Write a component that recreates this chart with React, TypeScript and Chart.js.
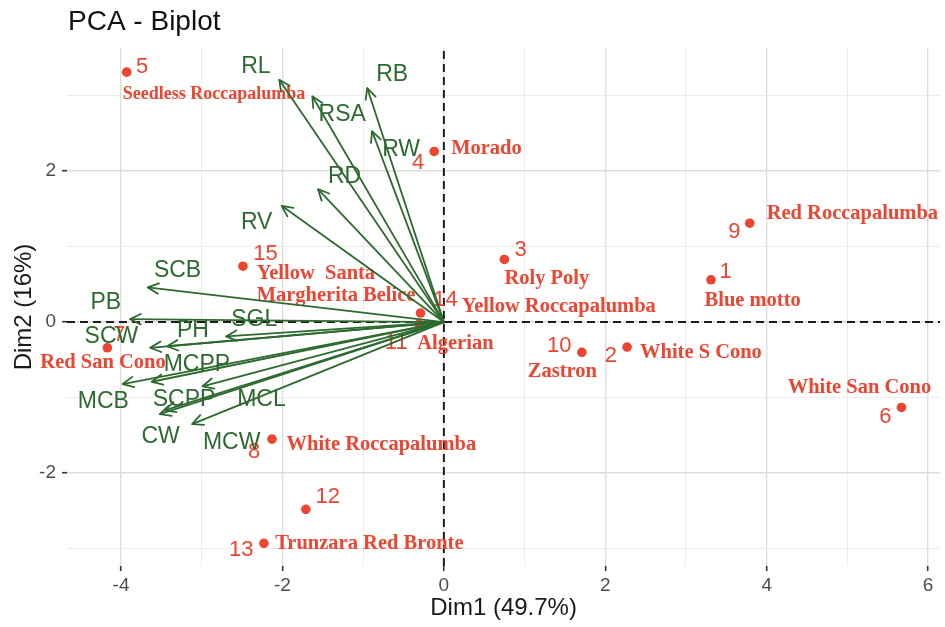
import React, { useEffect, useRef } from 'react';
import { Chart, registerables } from 'chart.js';

Chart.register(...registerables);

// ---------- Axis ranges & labels ----------
const X_MIN = -4.67;
const X_MAX = 6.15;
const Y_MIN = -3.23;
const Y_MAX = 3.63;
const chartTitle = 'PCA - Biplot';
const xTitle = 'Dim1 (49.7%)';
const yTitle = 'Dim2 (16%)';

// ---------- Individuals ----------
const indIds = ['1', '2', '3', '4', '5', '6', '7', '8', '9', '10', '11', '12', '13', '14', '15'];
const indNames = [
  'Blue motto',
  'White S Cono',
  'Roly Poly',
  'Morado',
  'Seedless Roccapalumba',
  'White San Cono',
  'Red San Cono',
  'White Roccapalumba',
  'Red Roccapalumba',
  'Zastron',
  'Algerian',
  '',
  'Trunzara Red Bronte',
  'Yellow Roccapalumba',
  'Yellow  Santa\nMargherita Belice',
];
const indX = [3.31, 2.27, 0.75, -0.12, -3.93, 5.67, -4.17, -2.13, 3.79, 1.71, -0.31, -1.71, -2.23, -0.29, -2.49];
const indY = [0.56, -0.33, 0.83, 2.26, 3.31, -1.13, -0.34, -1.55, 1.31, -0.4, -0.03, -2.48, -2.93, 0.12, 0.74];
// label anchors (data units)
const numLabelX = [3.49, 2.07, 0.95, -0.32, -3.74, 5.47, -4.02, -2.35, 3.6, 1.43, -0.59, -1.44, -2.51, 0.02, -2.21];
const numLabelY = [0.66, -0.45, 0.95, 2.11, 3.38, -1.26, -0.17, -1.72, 1.19, -0.32, -0.28, -2.32, -3.02, 0.29, 0.9];
const nameLabelX = [3.23, 2.43, 0.75, 0.09, -3.98, 4.26, -5.0, -1.95, 4.0, 1.04, -0.33, 0, -2.09, 0.22, -2.32];
const nameLabelY = [0.29, -0.4, 0.57, 2.29, 3.02, -0.87, -0.54, -1.62, 1.43, -0.66, -0.28, 0, -2.94, 0.2, 0.64];

// ---------- Variables ----------
const varNames = ['RL', 'RSA', 'RB', 'RW', 'RD', 'RV', 'SCB', 'PB', 'SGL', 'PH', 'SCW', 'MCPP', 'MCB', 'MCL', 'SCPP', 'CW', 'MCW'];
const varX = [-2.04, -1.63, -0.95, -0.89, -1.56, -2.01, -3.67, -3.89, -2.7, -3.43, -3.64, -3.62, -3.98, -2.99, -3.46, -3.52, -3.12];
const varY = [3.21, 2.99, 3.1, 2.53, 1.76, 1.54, 0.46, 0.04, -0.19, -0.32, -0.34, -0.79, -0.82, -0.85, -1.17, -1.22, -1.35];
const varLabelX = [-2.33, -1.26, -0.64, -0.53, -1.23, -2.32, -3.3, -4.19, -2.35, -3.11, -4.12, -3.06, -4.22, -2.26, -3.22, -3.51, -2.63];
const varLabelY = [3.38, 2.75, 3.28, 2.29, 1.93, 1.32, 0.68, 0.26, 0.03, -0.11, -0.19, -0.56, -1.06, -1.03, -1.03, -1.52, -1.6];

const RED = '#EE4430';
const GREEN = '#2D6A2F';
const SANS = '"Liberation Sans", Arial, Helvetica, sans-serif';
const SERIF = '"Liberation Serif", "Times New Roman", serif';
const NAME_FONT_PX = 20.5;
const NAME_FONT_PX_SMALL = 18; // the "Seedless Roccapalumba" caption is set smaller
const SMALL_NAME_IDS = ['5'];

const isEven = (v: number) => Math.round(v) % 2 === 0;

const biplotPlugin = {
  id: 'biplotDecor',
  afterDatasetDraw(chart: any, args: any) {
    if (args.index !== 0) return; // after individual points: draw their labels
    const { ctx } = chart;
    const xs = chart.scales.x;
    const ys = chart.scales.y;
    ctx.save();
    ctx.fillStyle = RED;
    ctx.textBaseline = 'middle';
    // numbers
    ctx.font = `22px ${SANS}`;
    ctx.textAlign = 'center';
    indIds.forEach((id, i) => {
      ctx.fillText(id, xs.getPixelForValue(numLabelX[i]), ys.getPixelForValue(numLabelY[i]));
    });
    // names
    ctx.textAlign = 'left';
    indNames.forEach((nm, i) => {
      if (!nm) return;
      const size = SMALL_NAME_IDS.includes(indIds[i]) ? NAME_FONT_PX_SMALL : NAME_FONT_PX;
      ctx.font = `bold ${size}px ${SERIF}`;
      const lines = nm.split('\n');
      const px = xs.getPixelForValue(nameLabelX[i]);
      const py = ys.getPixelForValue(nameLabelY[i]);
      lines.forEach((ln, k) => ctx.fillText(ln, px, py + k * 22));
    });
    ctx.restore();
  },
  afterDatasetsDraw(chart: any) {
    const { ctx } = chart;
    const xs = chart.scales.x;
    const ys = chart.scales.y;
    const x0 = xs.getPixelForValue(0);
    const y0 = ys.getPixelForValue(0);
    ctx.save();
    // arrow heads
    ctx.strokeStyle = GREEN;
    ctx.lineWidth = 1.8;
    ctx.lineCap = 'round';
    ctx.lineJoin = 'round';
    const L = 12;
    const w = Math.PI / 7;
    varX.forEach((vx, i) => {
      const x1 = xs.getPixelForValue(vx);
      const y1 = ys.getPixelForValue(varY[i]);
      const a = Math.atan2(y1 - y0, x1 - x0);
      ctx.beginPath();
      ctx.moveTo(x1 - L * Math.cos(a - w), y1 - L * Math.sin(a - w));
      ctx.lineTo(x1, y1);
      ctx.lineTo(x1 - L * Math.cos(a + w), y1 - L * Math.sin(a + w));
      ctx.stroke();
    });
    // variable labels
    ctx.fillStyle = GREEN;
    ctx.font = `23px ${SANS}`;
    ctx.textAlign = 'center';
    ctx.textBaseline = 'middle';
    varNames.forEach((nm, i) => {
      ctx.fillText(nm, xs.getPixelForValue(varLabelX[i]), ys.getPixelForValue(varLabelY[i]));
    });
    ctx.restore();
  },
  afterDraw(chart: any) {
    const { ctx, chartArea } = chart;
    ctx.save();
    ctx.fillStyle = '#111111';
    ctx.font = `28px ${SANS}`;
    ctx.textAlign = 'left';
    ctx.textBaseline = 'middle';
    ctx.fillText(chartTitle, chartArea.left + 1, 22);
    ctx.restore();
  },
};

export default function App() {
  const canvasRef = useRef<HTMLCanvasElement | null>(null);

  useEffect(() => {
    const canvas = canvasRef.current;
    if (!canvas) return;

    const arrowSets = varNames.map((nm, i) => ({
      label: nm,
      data: [
        { x: 0, y: 0 },
        { x: varX[i], y: varY[i] },
      ],
      showLine: true,
      borderColor: GREEN,
      borderWidth: 1.8,
      pointRadius: 0,
      order: 1,
    }));

    const chart = new Chart(canvas, {
      type: 'scatter',
      data: {
        datasets: [
          {
            label: 'individuals',
            data: indX.map((x, i) => ({ x, y: indY[i] })),
            backgroundColor: RED,
            borderColor: RED,
            pointRadius: 4.8,
            borderWidth: 0,
            order: 3,
          },
          ...arrowSets,
          {
            label: 'vzero',
            data: [
              { x: 0, y: Y_MIN },
              { x: 0, y: Y_MAX },
            ],
            showLine: true,
            borderColor: '#1c1c1c',
            borderWidth: 2,
            borderDash: [8, 5],
            pointRadius: 0,
            order: 5,
          },
          {
            label: 'hzero',
            data: [
              { x: X_MIN, y: 0 },
              { x: X_MAX, y: 0 },
            ],
            showLine: true,
            borderColor: '#1c1c1c',
            borderWidth: 2,
            borderDash: [8, 5],
            pointRadius: 0,
            order: 5,
          },
        ],
      },
      options: {
        responsive: false,
        animation: false,
        devicePixelRatio: 1,
        layout: { padding: { top: 48, right: 2, left: 0, bottom: 0 } },
        plugins: {
          legend: { display: false },
          tooltip: { enabled: false },
          title: { display: false },
        },
        scales: {
          x: {
            type: 'linear',
            min: X_MIN,
            max: X_MAX,
            afterFit: (s: any) => {
              s.height = 61;
            },
            border: { display: false },
            grid: {
              color: (c: any) => (isEven(c.tick.value) ? '#DEDEDE' : '#EAEAEA'),
              lineWidth: (c: any) => (isEven(c.tick.value) ? 1.4 : 0.9),
              tickColor: (c: any) => (isEven(c.tick.value) ? '#333333' : 'rgba(0,0,0,0)'),
              tickLength: 5,
              tickWidth: 1.6,
            },
            ticks: {
              stepSize: 1,
              includeBounds: false,
              autoSkip: false,
              maxRotation: 0,
              padding: 3,
              color: '#4D4D4D',
              font: { family: SANS, size: 19 },
              callback: (v: any) => (isEven(Number(v)) ? String(v) : ''),
            },
            title: {
              display: true,
              text: xTitle,
              color: '#1a1a1a',
              font: { family: SANS, size: 24 },
              padding: { top: 0, bottom: 4 },
            },
          },
          y: {
            type: 'linear',
            min: Y_MIN,
            max: Y_MAX,
            afterFit: (s: any) => {
              s.width = 67;
            },
            border: { display: false },
            grid: {
              color: (c: any) => (isEven(c.tick.value) ? '#DEDEDE' : '#EAEAEA'),
              lineWidth: (c: any) => (isEven(c.tick.value) ? 1.4 : 0.9),
              tickColor: (c: any) => (isEven(c.tick.value) ? '#333333' : 'rgba(0,0,0,0)'),
              tickLength: 5,
              tickWidth: 1.6,
            },
            ticks: {
              stepSize: 1,
              includeBounds: false,
              autoSkip: false,
              padding: 6,
              color: '#4D4D4D',
              font: { family: SANS, size: 19 },
              callback: (v: any) => (isEven(Number(v)) ? String(v) : ''),
            },
            title: {
              display: true,
              text: yTitle,
              color: '#1a1a1a',
              font: { family: SANS, size: 24 },
              padding: { top: 10, bottom: 0 },
            },
          },
        },
      } as any,
      plugins: [biplotPlugin],
    });

    return () => {
      chart.destroy();
    };
  }, []);

  return (
    <div style={{ position: 'absolute', left: 0, top: 0, width: 945, height: 627, background: '#ffffff' }}>
      <canvas ref={canvasRef} width={945} height={627} style={{ display: 'block' }} />
    </div>
  );
}
